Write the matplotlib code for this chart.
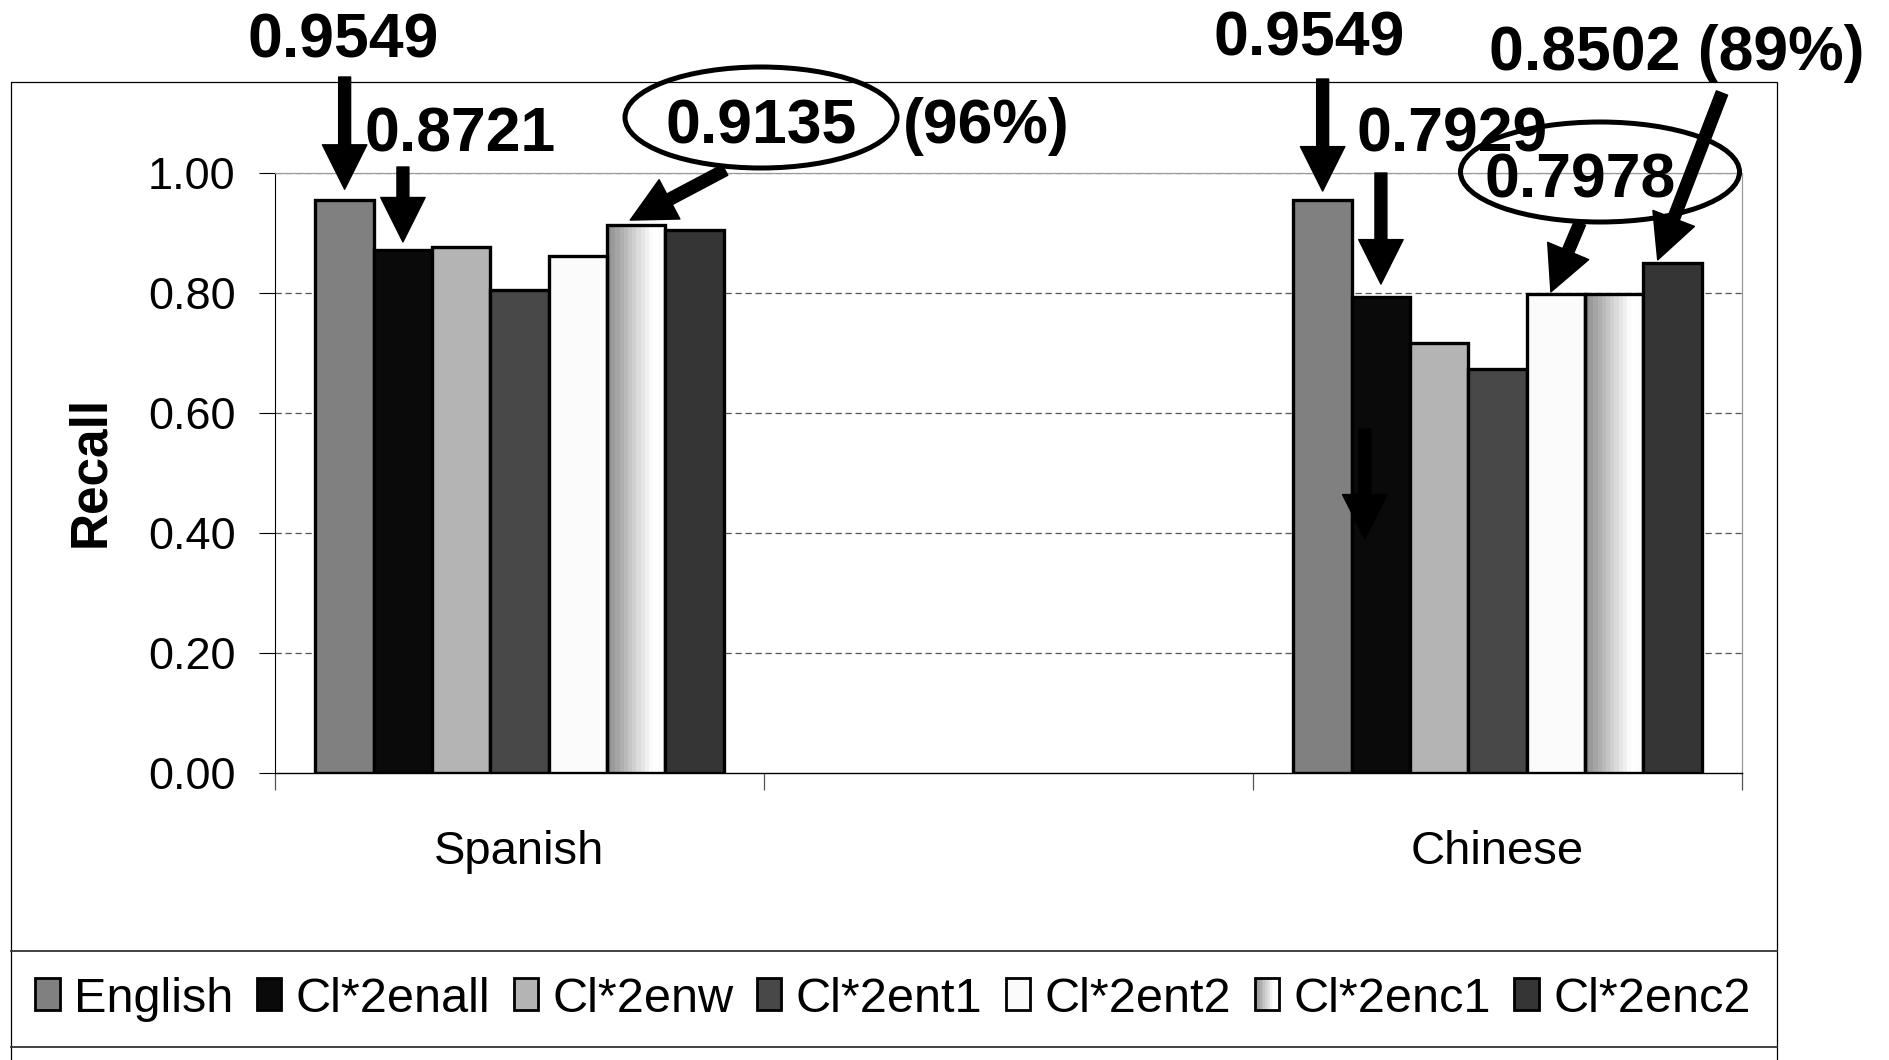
import numpy as np
import matplotlib
matplotlib.use("Agg")
import matplotlib.pyplot as plt
from matplotlib import transforms as mtransforms
from matplotlib.patches import Ellipse, Rectangle, Patch
from matplotlib.lines import Line2D
from matplotlib.legend_handler import HandlerBase

plt.rcParams["font.family"] = ["Liberation Sans", "DejaVu Sans"]

# ---- data -------------------------------------------------------------
languages = ["Spanish", "Chinese"]
slots = [0, 2]                      # the middle category slot is left empty
series = ["English", "Cl*2enall", "Cl*2enw", "Cl*2ent1",
          "Cl*2ent2", "Cl*2enc1", "Cl*2enc2"]
english = [0.9549, 0.9549]
cl_enall = [0.8721, 0.7929]
cl_enw = [0.876, 0.717]
cl_ent1 = [0.805, 0.674]
cl_ent2 = [0.862, 0.7978]
cl_enc1 = [0.9135, 0.799]
cl_enc2 = [0.905, 0.8502]
values = [english, cl_enall, cl_enw, cl_ent1, cl_ent2, cl_enc1, cl_enc2]
yticks = [0.0, 0.2, 0.4, 0.6, 0.8, 1.0]
ytick_labels = ["0.00", "0.20", "0.40", "0.60", "0.80", "1.00"]

fills = ["#808080", "#0a0a0a", "#b4b4b4", "#484848", "#fbfbfb", None, "#353535"]
GRAD_SERIES = 5

W, H = 1890, 1060
fig = plt.figure(figsize=(W / 100, H / 100), dpi=100)
# pixel coordinates measured from the top-left corner of the figure
px = mtransforms.Affine2D().scale(1 / W, -1 / H).translate(0, 1) + fig.transFigure

ax = fig.add_axes([275 / W, 1 - 773 / H, 1467 / W, 600 / H])

bar_w = 0.1192
edge_lw = 2.4
bar_x = {}
for i, (name, vals) in enumerate(zip(series, values)):
    xs = [s + (i - 3) * bar_w for s in slots]
    bar_x[name] = xs
    if i == GRAD_SERIES:
        bars = ax.bar(xs, vals, bar_w, facecolor="none", edgecolor="black",
                      linewidth=edge_lw, zorder=3)
        shade = np.clip(0.56 + 0.44 * np.linspace(0, 1, 14) / 0.8, 0, 1)
        shade[-2:] = 0.99
        for b in bars:
            im = ax.imshow(shade[None, :], cmap="gray", vmin=0, vmax=1,
                           extent=[b.get_x(), b.get_x() + b.get_width(), 0, b.get_height()],
                           aspect="auto", interpolation="nearest", zorder=2.5)
            im.set_clip_path(b)
    else:
        ax.bar(xs, vals, bar_w, color=fills[i], edgecolor="black",
               linewidth=edge_lw, zorder=3)

ax.set_xlim(-0.5, 2.5)
ax.set_ylim(0, 1.0)

# axes styling
for g in yticks[1:]:
    ax.axhline(g, color="#555555", lw=0.9, dashes=(5, 3), zorder=1)
ax.spines["top"].set_color("#9a9a9a")
ax.spines["right"].set_color("#9a9a9a")
ax.spines["top"].set_linewidth(0.9)
ax.spines["right"].set_linewidth(0.9)
ax.spines["left"].set_linewidth(0.8)
ax.spines["bottom"].set_linewidth(1.0)

ax.set_yticks(yticks, ytick_labels)
ax.tick_params(axis="y", length=11.5, width=0.8, pad=17, labelsize=32.5)
ax.set_xticks([-0.5, 0.5, 1.5, 2.5], ["", "", "", ""])
ax.tick_params(axis="x", which="major", length=12, width=0.9, color="#555555")
ax.set_xticks(slots, languages, minor=True)
ax.tick_params(axis="x", which="minor", length=0, pad=41, labelsize=34)

fig.text(91, 471, "Recall", rotation=90, ha="center", va="center",
         fontsize=37, fontweight="bold", transform=px)

# ---- outer frame and legend band --------------------------------------
fig.add_artist(Rectangle((11, 82), 1766, 1100, transform=px, fill=False,
                         edgecolor="black", lw=0.9))
for yy in (951, 1047):
    fig.add_artist(Line2D([11, 1777], [yy, yy], transform=px,
                          color="#333333", lw=1.3))


class GradientHandler(HandlerBase):
    def create_artists(self, legend, orig_handle, xdescent, ydescent,
                       width, height, fontsize, trans):
        arts = []
        n = len(shade)
        for k, g in enumerate(shade):
            arts.append(Rectangle((-xdescent + k * width / n, -ydescent),
                                  width / n, height, facecolor=str(g),
                                  edgecolor="none", transform=trans))
        arts.append(Rectangle((-xdescent, -ydescent), width, height,
                              facecolor="none", edgecolor="black", lw=2,
                              transform=trans))
        return arts


handles = []
grad_handle = Patch(facecolor="white", edgecolor="black")
for i in range(len(series)):
    if i == GRAD_SERIES:
        handles.append(grad_handle)
    else:
        handles.append(Patch(facecolor=fills[i], edgecolor="black", lw=2))

leg_fs = 35
fig.legend(handles, series, loc="center",
           bbox_to_anchor=(893 / W, 1 - 999 / H), ncol=7, frameon=False,
           fontsize=leg_fs, handlelength=0.5, handleheight=0.64,
           handletextpad=0.3, columnspacing=0.48, borderpad=0,
           handler_map={grad_handle: GradientHandler()})

# ---- callouts -----------------------------------------------------------
tf = dict(fontsize=45, fontweight="bold", transform=px, va="baseline", zorder=10)
fig.text(343, 58, "0.9549", ha="center", **tf)
fig.text(460, 151, "0.8721", ha="center", **tf)
fig.text(761, 143, "0.9135", ha="center", **tf)
fig.text(986, 143, "(96%)", ha="center", **tf)
fig.text(1309, 55, "0.9549", ha="center", **tf)
fig.text(1452, 152, "0.7929", ha="center", **tf)
fig.text(1580, 197, "0.7978", ha="center", **tf)
fig.text(1677, 70, "0.8502 (89%)", ha="center", **tf)

for (cx, cy, ew, eh) in [(761, 117.5, 272, 101), (1600, 172, 279, 100)]:
    fig.add_artist(Ellipse((cx, cy), ew, eh, transform=px, fill=False,
                           edgecolor="black", lw=3.6, zorder=11))

arrow = dict(width=8.6, headwidth=32, headlength=32, shrink=0,
             facecolor="black", edgecolor="black")
column_px = mtransforms.blended_transform_factory(ax.transData, px)
si, ci = 0, 1  # Spanish, Chinese


def point_down(name, idx, y_start_px, gap, dx=0.0, tip=None):
    x = bar_x[name][idx] + dx
    top = values[series.index(name)][idx] + gap if tip is None else tip
    ax.annotate("", xy=(x, top), xycoords="data", xytext=(x, y_start_px),
                textcoords=column_px, arrowprops=arrow,
                annotation_clip=False, zorder=12)


def point_from(name, idx, start_px, gap, dx=0.0):
    x = bar_x[name][idx] + dx
    top = values[series.index(name)][idx] + gap
    ax.annotate("", xy=(x, top), xycoords="data", xytext=start_px,
                textcoords=px, arrowprops=arrow,
                annotation_clip=False, zorder=12)


point_down("English", si, 77, 0.018)
point_down("Cl*2enall", si, 167, 0.013)
point_from("Cl*2enc1", si, (725, 170), 0.008, dx=-0.012)
point_down("English", ci, 79, 0.015)
point_down("Cl*2enall", ci, 173, 0.022)
point_from("Cl*2ent2", ci, (1580, 223), 0.004, dx=-0.01)
point_from("Cl*2enc2", ci, (1722, 93), 0.005, dx=-0.03)
point_down("Cl*2enall", ci, 429, 0.0, dx=-0.033, tip=0.39)

fig.savefig("out.png", dpi=100)
